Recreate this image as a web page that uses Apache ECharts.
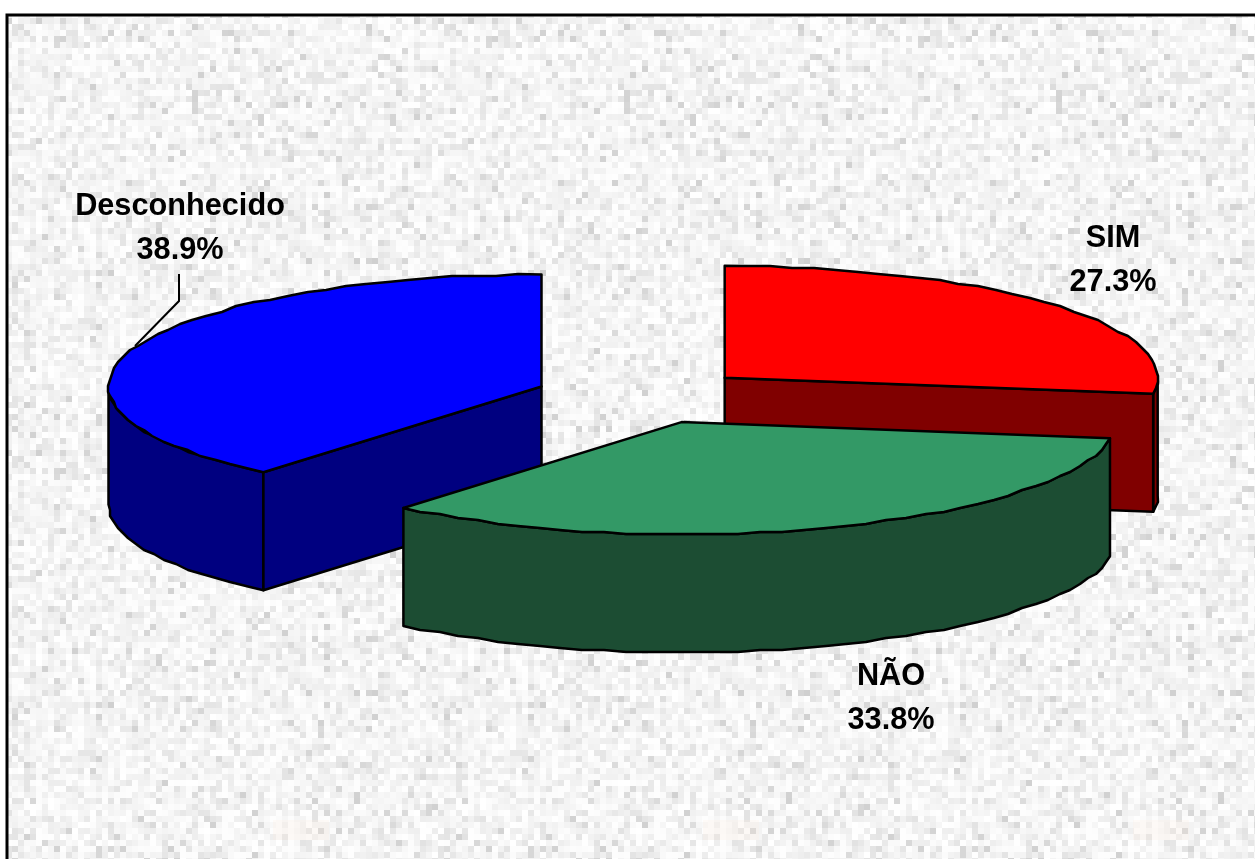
<!DOCTYPE html>
<html><head><meta charset="utf-8">
<style>html,body{margin:0;padding:0;background:#fff}#c{width:1255px;height:859px}</style>
<script src="https://cdn.jsdelivr.net/npm/echarts@6/dist/echarts.min.js"></script>
</head><body><div id="c"></div>
<script>
const categories = ['SIM', 'NÃO', 'Desconhecido'];
const percentages = [27.3, 33.8, 38.9];
const topColors = ['#FF0000', '#339966', '#0000FF'];
const sideColors = ['#800000', '#1C4D33', '#000080'];
const stacking = [1, 2, 1];
const labelCentres = [[1113, 261], [891, 699], [180, 229]];
const leaderLine = [[179, 274], [179, 301], [135, 346]];
const faintMarks = [[273, 820], [703, 820], [1133, 820]];
const pie = {cx: 643, cy: 396, rx: 433, ry: 112, depth: 118, explode: 108, snap: 2};

function makeTexture() {
  const cell = 6, n = 72;
  const cv = document.createElement('canvas');
  cv.width = cv.height = cell * n;
  const g = cv.getContext('2d');
  let s = 2024;
  const next = () => { s = (s * 16807) % 2147483647; return s / 2147483647; };
  for (let y = 0; y < n; y++) for (let x = 0; x < n; x++) {
    const r = next();
    let v = 237 + Math.round(next() * 14);
    if (r > 0.95) v = 208 + Math.round(next() * 14);
    else if (r > 0.8) v = 226 + Math.round(next() * 8);
    else if (r < 0.25) v = 251 + Math.round(next() * 4);
    g.fillStyle = `rgb(${v},${v},${v})`;
    g.fillRect(x * cell, y * cell, cell, cell);
  }
  return cv;
}

const total = percentages.reduce((a, b) => a + b, 0);
const rad = d => d * Math.PI / 180;
const snap = v => Math.round(v / pie.snap) * pie.snap;

function renderItem(params, api) {
  const i = params.dataIndex;
  const before = percentages.slice(0, i).reduce((a, b) => a + b, 0);
  const a0 = before / total * 360;
  const a1 = a0 + api.value(0) / total * 360;
  const mid = rad((a0 + a1) / 2);
  const ox = pie.cx + pie.explode * Math.sin(mid);
  const oy = pie.cy - pie.explode * (pie.ry / pie.rx) * Math.cos(mid);
  const pt = (deg, d) => [ox + pie.rx * Math.sin(rad(deg)), oy - pie.ry * Math.cos(rad(deg)) + (d || 0)];
  const arc = (from, to) => {
    const out = [], steps = Math.max(2, Math.ceil((to - from) / 3));
    for (let k = 0; k <= steps; k++) {
      const p = pt(from + (to - from) * k / steps);
      out.push(k === 0 || k === steps ? p : [snap(p[0]), snap(p[1])]);
    }
    return out;
  };
  const z2 = stacking[i];
  const poly = (points, fill) => ({
    type: 'polygon', z2,
    shape: {points},
    style: {fill, stroke: '#000', lineWidth: 2.5, lineJoin: 'round'}
  });
  const children = [];
  const apex = [ox, oy];
  const down = p => [p[0], p[1] + pie.depth];
  const lo = Math.max(a0, 90), hi = Math.min(a1, 270);
  if (hi > lo) {
    const w = arc(lo, hi);
    children.push(poly(w.concat(w.map(down).reverse()), sideColors[i]));
  }
  [[a1, Math.sin(rad(a1)) > 1e-6], [a0, Math.sin(rad(a0)) < -1e-6]].forEach(([a, vis]) => {
    if (vis) {
      const e = pt(a);
      children.push(poly([apex, e, down(e), down(apex)], sideColors[i]));
    }
  });
  children.push(poly([apex].concat(arc(a0, a1)), topColors[i]));
  children.push({
    type: 'text', z2: 5,
    style: {
      x: labelCentres[i][0], y: labelCentres[i][1],
      text: api.value(1) + '\n' + api.value(0).toFixed(1) + '%',
      align: 'center', verticalAlign: 'middle',
      font: 'bold 30.7px "Liberation Sans"', lineHeight: 44, fill: '#000'
    }
  });
  return {type: 'group', children};
}

const chart = echarts.init(document.getElementById('c'), null, {renderer: 'canvas'});
chart.setOption({
  animation: false,
  backgroundColor: '#fff',
  graphic: [
    {type: 'rect', z: 0, shape: {x: 7, y: 15, width: 1260, height: 860},
     style: {fill: {image: makeTexture(), repeat: 'repeat'}, stroke: '#000', lineWidth: 3}}
  ].concat(faintMarks.map(m => ({
    type: 'rect', z: 1, shape: {x: m[0], y: m[1], width: 56, height: 20},
    style: {fill: 'rgba(255,235,225,0.22)'}
  }))).concat([
    {type: 'polyline', z: 10, shape: {points: leaderLine}, style: {stroke: '#000', lineWidth: 2, fill: null}}
  ]),
  series: [{
    type: 'custom',
    coordinateSystem: 'none',
    renderItem,
    data: percentages.map((p, i) => [p, categories[i]])
  }]
});
</script></body></html>
